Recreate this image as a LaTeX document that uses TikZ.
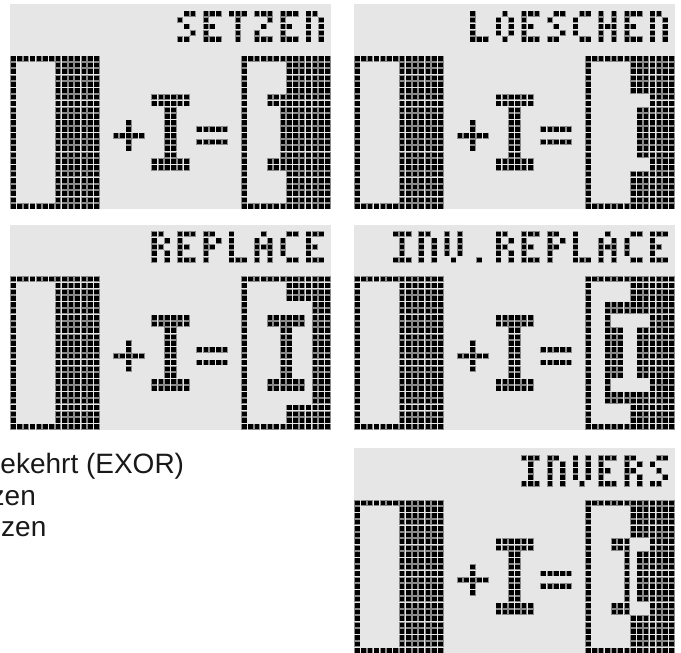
\documentclass[tikz,border=0pt]{standalone}
\usepackage{fontspec}
\setmainfont{Liberation Sans}
\definecolor{lcdbg}{HTML}{E6E6E6}
\definecolor{pxrim}{HTML}{8A8A8A}
\newcommand\pxl[2]{\fill[pxrim] ({#1+0.04},{#2+0.04}) rectangle ({#1+0.96},{#2+0.96});\fill[black] ({#1+0.14},{#2+0.14}) rectangle ({#1+0.86},{#2+0.86});}
\newcommand\pxblk[4]{\foreach \ii in {#1,...,#2}{\foreach \jj in {#3,...,#4}{\pxl{\ii}{\jj}}}}
\newcommand\glyph[2]{\foreach \gx/\gy in #2 {\pxl{#1+\gx}{1+\gy}}}
\def\gS{1/0,2/0,0/1,1/2,2/3,0/4,1/4}
\def\gE{0/0,1/0,2/0,0/1,0/2,1/2,0/3,0/4,1/4,2/4}
\def\gT{0/0,1/0,2/0,1/1,1/2,1/3,1/4}
\def\gZ{0/0,1/0,2/0,2/1,1/2,0/3,0/4,1/4,2/4}
\def\gN{0/0,1/0,0/1,2/1,0/2,2/2,0/3,2/3,0/4,2/4}
\def\gL{0/0,0/1,0/2,0/3,0/4,1/4,2/4}
\def\gO{1/0,0/1,2/1,0/2,2/2,0/3,2/3,1/4}
\def\gC{1/0,2/0,0/1,0/2,0/3,1/4,2/4}
\def\gH{0/0,2/0,0/1,2/1,0/2,1/2,2/2,0/3,2/3,0/4,2/4}
\def\gR{0/0,1/0,0/1,2/1,0/2,1/2,0/3,2/3,0/4,2/4}
\def\gP{0/0,1/0,0/1,2/1,0/2,1/2,0/3,0/4}
\def\gA{1/0,0/1,2/1,0/2,1/2,2/2,0/3,2/3,0/4,2/4}
\def\gI{0/0,1/0,2/0,1/1,1/2,1/3,0/4,1/4,2/4}
\def\gV{0/0,2/0,0/1,2/1,0/2,2/2,0/3,2/3,1/4}
\def\gDot{1/4}
\newcommand\panelbase{%
  \fill[lcdbg] (0,0) rectangle (50,32);
  % left figure
  \pxblk{0}{13}{8}{8}\pxblk{0}{13}{31}{31}\pxblk{0}{0}{9}{30}\pxblk{7}{13}{9}{30}
  % plus
  \pxblk{16}{20}{20}{20}\pxblk{18}{18}{18}{19}\pxblk{18}{18}{21}{22}
  % cursor sprite
  \pxblk{22}{27}{14}{15}\pxblk{24}{25}{16}{23}\pxblk{22}{27}{24}{25}
  % equals
  \pxblk{29}{33}{19}{19}\pxblk{29}{33}{21}{21}
  % right figure outline
  \pxblk{36}{49}{8}{8}\pxblk{36}{49}{31}{31}\pxblk{36}{36}{9}{30}}
\begin{document}
\begin{tikzpicture}[x=1pt,y=-1pt]
\useasboundingbox (0,0) rectangle (681,653);
\fill[white] (0,0) rectangle (681,653);
\clip (0,0) rectangle (681,653);
% Panel 1: SETZEN
\begin{scope}[shift={(10,4)},x=6.42pt,y=-6.42pt]
  \panelbase
  \glyph{26}{\gS}\glyph{30}{\gE}\glyph{34}{\gT}\glyph{38}{\gZ}\glyph{42}{\gE}\glyph{46}{\gN}
  \pxblk{43}{49}{9}{30}
  \pxblk{40}{42}{14}{15}\pxblk{42}{42}{16}{23}\pxblk{40}{42}{24}{25}
\end{scope}
% Panel 2: LOESCHEN
\begin{scope}[shift={(354,4)},x=6.42pt,y=-6.42pt]
  \panelbase
  \glyph{18}{\gL}\glyph{22}{\gO}\glyph{26}{\gE}\glyph{30}{\gS}\glyph{34}{\gC}\glyph{38}{\gH}\glyph{42}{\gE}\glyph{46}{\gN}
  \pxblk{43}{49}{9}{13}\pxblk{46}{49}{14}{15}\pxblk{44}{49}{16}{23}\pxblk{46}{49}{24}{25}\pxblk{43}{49}{26}{30}
\end{scope}
% Panel 3: REPLACE
\begin{scope}[shift={(10,224.5)},x=6.42pt,y=-6.42pt]
  \panelbase
  \glyph{22}{\gR}\glyph{26}{\gE}\glyph{30}{\gP}\glyph{34}{\gL}\glyph{38}{\gA}\glyph{42}{\gC}\glyph{46}{\gE}
  \pxblk{43}{49}{9}{11}\pxblk{47}{49}{12}{27}\pxblk{43}{49}{28}{30}
  \pxblk{40}{45}{14}{15}\pxblk{42}{43}{16}{23}\pxblk{40}{45}{24}{25}
\end{scope}
% Panel 4: INV.REPLACE
\begin{scope}[shift={(354,224.5)},x=6.42pt,y=-6.42pt]
  \panelbase
  \glyph{6}{\gI}\glyph{10}{\gN}\glyph{14}{\gV}\glyph{18}{\gDot}\glyph{22}{\gR}\glyph{26}{\gE}\glyph{30}{\gP}\glyph{34}{\gL}\glyph{38}{\gA}\glyph{42}{\gC}\glyph{46}{\gE}
  \pxblk{43}{49}{9}{11}
  \pxblk{39}{49}{12}{13}
  \pxblk{39}{39}{14}{15}\pxblk{46}{49}{14}{15}
  \pxblk{39}{41}{16}{23}\pxblk{44}{49}{16}{23}
  \pxblk{39}{39}{24}{25}\pxblk{46}{49}{24}{25}
  \pxblk{39}{49}{26}{27}
  \pxblk{43}{49}{28}{30}
\end{scope}
% Panel 5: INVERS
\begin{scope}[shift={(354,448.3)},x=6.42pt,y=-6.42pt]
  \panelbase
  \glyph{26}{\gI}\glyph{30}{\gN}\glyph{34}{\gV}\glyph{38}{\gE}\glyph{42}{\gR}\glyph{46}{\gS}
  \pxblk{43}{49}{9}{13}
  \pxblk{40}{42}{14}{15}\pxblk{46}{49}{14}{15}
  \pxblk{42}{42}{16}{23}\pxblk{44}{49}{16}{23}
  \pxblk{40}{42}{24}{25}\pxblk{46}{49}{24}{25}
  \pxblk{43}{49}{26}{30}
\end{scope}
% Legend text (cut off at the left edge, as in the reference)
\begin{scope}[every node/.style={anchor=base west,inner sep=0pt,text=black!90,font=\fontsize{28}{32}\selectfont}]
  \node (l1) at (0.3,473.3) {ekehrt (EXOR)};
  \node (l2) at (-9.5,505) {zen};
  \node (l3) at (1,536.7) {zen};
\end{scope}
\end{tikzpicture}
\end{document}
